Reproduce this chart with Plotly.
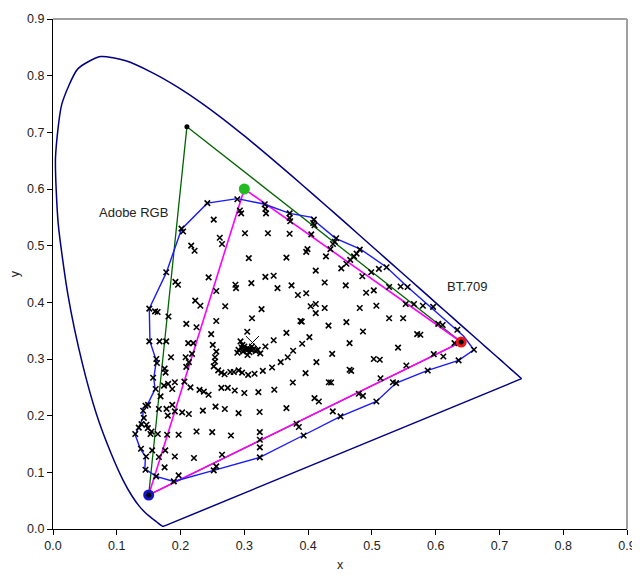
import plotly.graph_objects as go

# CIE 1931 2-degree spectral locus (x, y), 380-700 nm
locus_x = [0.1741, 0.1740, 0.1738, 0.1736, 0.1733, 0.1730, 0.1726, 0.1721, 0.1714, 0.1703,
           0.1689, 0.1669, 0.1644, 0.1611, 0.1566, 0.1510, 0.1440, 0.1355, 0.1241, 0.1096,
           0.0913, 0.0687, 0.0454, 0.0235, 0.0082, 0.0039, 0.0139, 0.0389, 0.0743, 0.1142,
           0.1547, 0.1929, 0.2296, 0.2658, 0.3016, 0.3373, 0.3731, 0.4087, 0.4441, 0.4788,
           0.5125, 0.5448, 0.5752, 0.6029, 0.6270, 0.6482, 0.6658, 0.6801, 0.6915, 0.7006,
           0.7079, 0.7140, 0.7190, 0.7230, 0.7260, 0.7283, 0.7300, 0.7311, 0.7320, 0.7327,
           0.7334, 0.7344, 0.7347]
locus_y = [0.0050, 0.0050, 0.0049, 0.0049, 0.0048, 0.0048, 0.0048, 0.0048, 0.0051, 0.0058,
           0.0069, 0.0086, 0.0109, 0.0138, 0.0177, 0.0227, 0.0297, 0.0399, 0.0578, 0.0868,
           0.1327, 0.2007, 0.2950, 0.4127, 0.5384, 0.6548, 0.7502, 0.8120, 0.8338, 0.8262,
           0.8059, 0.7816, 0.7543, 0.7243, 0.6923, 0.6589, 0.6245, 0.5896, 0.5547, 0.5202,
           0.4866, 0.4544, 0.4242, 0.3965, 0.3725, 0.3514, 0.3340, 0.3197, 0.3083, 0.2993,
           0.2920, 0.2859, 0.2809, 0.2770, 0.2740, 0.2717, 0.2700, 0.2689, 0.2680, 0.2673,
           0.2666, 0.2656, 0.2653]
# Line of purples (700 nm back to 380 nm)
purple_x = [0.7347, 0.1741]
purple_y = [0.2653, 0.0050]

# Adobe RGB primaries (R, G, B, R)
adobe_x = [0.64, 0.21, 0.15, 0.64]
adobe_y = [0.33, 0.71, 0.06, 0.33]

# BT.709 primaries (R, G, B, R)
bt709_x = [0.64, 0.30, 0.15, 0.64]
bt709_y = [0.33, 0.60, 0.06, 0.33]

# Measured gamut boundary (blue polygon)
gamut_x = [0.151, 0.1775, 0.2015, 0.242, 0.289, 0.332, 0.371, 0.406, 0.410, 0.443, 0.482,
           0.523, 0.556, 0.644, 0.660, 0.636, 0.5876, 0.538, 0.507, 0.4508, 0.392, 0.3243,
           0.252, 0.1894, 0.1618, 0.144, 0.145, 0.137, 0.129, 0.134, 0.141, 0.141, 0.148,
           0.160, 0.158, 0.162, 0.152, 0.151]
gamut_y = [0.389, 0.452, 0.529, 0.575, 0.583, 0.573, 0.557, 0.550, 0.544, 0.513, 0.494,
           0.462, 0.427, 0.340, 0.316, 0.2975, 0.280, 0.2575, 0.225, 0.1987, 0.165, 0.1263,
           0.1034, 0.084, 0.0928, 0.106, 0.128, 0.141, 0.166, 0.178, 0.196, 0.213, 0.219,
           0.247, 0.266, 0.297, 0.331, 0.389]

# Measured sample chromaticities (x markers)
sample_x = [
    0.242, 0.289, 0.293, 0.295, 0.332, 0.333, 0.334, 0.371, 0.371, 0.372, 0.252, 0.2015, 0.204,
    0.2615, 0.265, 0.301, 0.337, 0.371, 0.2167, 0.222, 0.307, 0.366, 0.1775, 0.244, 0.192, 0.196,
    0.256, 0.286, 0.287, 0.311, 0.333, 0.346, 0.352, 0.374, 0.384, 0.151, 0.160, 0.164, 0.181,
    0.223, 0.231, 0.270, 0.327, 0.312, 0.209, 0.225, 0.256, 0.388,
    0.409, 0.408, 0.410, 0.405, 0.399, 0.397, 0.428, 0.444, 0.442, 0.439, 0.435, 0.481, 0.476,
    0.472, 0.466, 0.460, 0.452, 0.412, 0.511, 0.523, 0.499, 0.485, 0.426, 0.459, 0.527, 0.545,
    0.556, 0.397, 0.503, 0.491, 0.404, 0.412, 0.412, 0.426, 0.481, 0.507, 0.553, 0.566, 0.580,
    0.596, 0.527, 0.549, 0.390, 0.432, 0.460, 0.604, 0.611,
    0.248, 0.3045, 0.366, 0.151, 0.167, 0.1775, 0.212, 0.220, 0.2505, 0.346,
    0.294, 0.297, 0.291, 0.289, 0.296, 0.300, 0.303, 0.306, 0.309, 0.312, 0.315, 0.318, 0.321,
    0.325, 0.333, 0.305, 0.300, 0.312, 0.298, 0.308,
    0.3765, 0.368, 0.357, 0.3435, 0.329, 0.316, 0.306, 0.2965, 0.291, 0.2835, 0.278, 0.269, 0.264,
    0.259, 0.252, 0.254, 0.254, 0.256, 0.396,
    0.162, 0.163, 0.185, 0.208, 0.213, 0.209, 0.218, 0.175, 0.1765, 0.157, 0.191, 0.1805, 0.174,
    0.187, 0.161, 0.206, 0.2155, 0.2297, 0.2365, 0.244, 0.264, 0.274, 0.285, 0.300, 0.322, 0.347,
    0.1686, 0.149, 0.145, 0.187, 0.178, 0.166, 0.1414, 0.191, 0.2025, 0.213, 0.235, 0.2548,
    0.2694, 0.291, 0.324, 0.366, 0.180, 0.1424, 0.1388, 0.1345, 0.1466, 0.1487, 0.1544, 0.129,
    0.1529, 0.1643, 0.179, 0.197, 0.225, 0.2496, 0.279, 0.3243, 0.3243, 0.3243, 0.3243, 0.138,
    0.1555, 0.176, 0.146, 0.166, 0.191, 0.221, 0.265, 0.175, 0.145, 0.1618, 0.197, 0.1894, 0.252,
    0.256, 0.3818, 0.3855, 0.393, 0.376,
    0.486, 0.571, 0.576, 0.402, 0.3907, 0.465, 0.541, 0.634, 0.6295, 0.4377, 0.503, 0.5124,
    0.597, 0.612, 0.660, 0.636, 0.413, 0.465, 0.4675, 0.554, 0.5876, 0.4325, 0.436, 0.5135,
    0.533, 0.538, 0.4795, 0.486, 0.507, 0.410, 0.4168, 0.4387, 0.4508,
]
sample_y = [
    0.575, 0.582, 0.562, 0.557, 0.573, 0.565, 0.557, 0.557, 0.549, 0.543, 0.546, 0.530, 0.525,
    0.514, 0.503, 0.522, 0.522, 0.521, 0.500, 0.491, 0.478, 0.479, 0.453, 0.444, 0.436, 0.431,
    0.420, 0.431, 0.425, 0.434, 0.445, 0.447, 0.425, 0.430, 0.413, 0.389, 0.384, 0.383, 0.375,
    0.403, 0.394, 0.393, 0.388, 0.372, 0.362, 0.356, 0.367, 0.367,
    0.546, 0.540, 0.536, 0.520, 0.494, 0.489, 0.481, 0.513, 0.507, 0.503, 0.494, 0.493, 0.486,
    0.481, 0.475, 0.468, 0.460, 0.456, 0.459, 0.462, 0.453, 0.446, 0.435, 0.430, 0.427, 0.428,
    0.427, 0.416, 0.421, 0.417, 0.393, 0.397, 0.381, 0.390, 0.390, 0.394, 0.397, 0.397, 0.394,
    0.392, 0.372, 0.372, 0.366, 0.359, 0.365, 0.362, 0.360,
    0.344, 0.348, 0.346, 0.331, 0.331, 0.331, 0.328, 0.328, 0.325, 0.333,
    0.331, 0.325, 0.316, 0.311, 0.320, 0.318, 0.316, 0.318, 0.317, 0.316, 0.318, 0.314, 0.316,
    0.310, 0.322, 0.307, 0.322, 0.322, 0.313, 0.312,
    0.3145, 0.303, 0.2945, 0.285, 0.279, 0.274, 0.272, 0.276, 0.280, 0.277, 0.277, 0.273, 0.276,
    0.280, 0.287, 0.2955, 0.303, 0.313, 0.275,
    0.300, 0.293, 0.303, 0.303, 0.2945, 0.286, 0.309, 0.283, 0.276, 0.267, 0.259, 0.256, 0.253,
    0.247, 0.247, 0.260, 0.250, 0.2455, 0.2425, 0.237, 0.249, 0.249, 0.2445, 0.240, 0.2415, 0.2457,
    0.234, 0.219, 0.2175, 0.219, 0.212, 0.2117, 0.2087, 0.2075, 0.2057, 0.203, 0.209, 0.216,
    0.2117, 0.2046, 0.2064, 0.2134, 0.200, 0.196, 0.185, 0.179, 0.184, 0.178, 0.172, 0.1676,
    0.1676, 0.1676, 0.1663, 0.1663, 0.172, 0.171, 0.165, 0.171, 0.1575, 0.144, 0.1263, 0.1417,
    0.1387, 0.1387, 0.128, 0.127, 0.128, 0.1252, 0.131, 0.1087, 0.1046, 0.0928, 0.0946, 0.084, 0.1034,
    0.1104, 0.1857, 0.180, 0.165, 0.2585,
    0.3485, 0.344, 0.3427, 0.3387, 0.327, 0.328, 0.320, 0.3516, 0.328, 0.309, 0.300, 0.2987,
    0.3087, 0.3045, 0.3163, 0.2975, 0.2945, 0.281, 0.279, 0.2885, 0.2798, 0.259, 0.2585, 0.266,
    0.259, 0.2575, 0.2387, 0.235, 0.225, 0.231, 0.225, 0.2075, 0.1987,
]

# White point
white_x = [0.3127]
white_y = [0.329]

# Labels
label_text = ["Adobe RGB", "BT.709"]
label_x = [0.126, 0.649]
label_y = [0.558, 0.428]

ticks = [0.0, 0.1, 0.2, 0.3, 0.4, 0.5, 0.6, 0.7, 0.8, 0.9]
tick_text = ["0.0", "0.1", "0.2", "0.3", "0.4", "0.5", "0.6", "0.7", "0.8", "0.9"]

FONT = "Liberation Sans, Arial, sans-serif"

fig = go.Figure()
fig.add_trace(go.Scatter(x=locus_x, y=locus_y, mode="lines",
                         line=dict(color="#000080", width=1.5, shape="spline", smoothing=0.6),
                         hoverinfo="skip"))
fig.add_trace(go.Scatter(x=purple_x, y=purple_y, mode="lines",
                         line=dict(color="#000080", width=1.5), hoverinfo="skip"))
fig.add_trace(go.Scatter(x=adobe_x, y=adobe_y, mode="lines",
                         line=dict(color="#006400", width=1.3), hoverinfo="skip"))
fig.add_trace(go.Scatter(x=bt709_x, y=bt709_y, mode="lines",
                         line=dict(color="#ff00ff", width=1.6), hoverinfo="skip"))
fig.add_trace(go.Scatter(x=gamut_x, y=gamut_y, mode="lines",
                         line=dict(color="#1a1aff", width=1.4), hoverinfo="skip"))
fig.add_trace(go.Scatter(x=sample_x, y=sample_y, mode="markers",
                         marker=dict(symbol="x-thin", size=5.5, color="black",
                                     line=dict(color="black", width=1.6))))
fig.add_trace(go.Scatter(x=white_x, y=white_y, mode="markers",
                         marker=dict(symbol="x-thin", size=13, color="black",
                                     line=dict(color="black", width=1))))
# BT.709 primaries as coloured dots
fig.add_trace(go.Scatter(x=bt709_x[:3], y=bt709_y[:3], mode="markers",
                         marker=dict(size=11, color=["#e81818", "#22bb22", "#1414c8"],
                                     line=dict(width=0))))
# Adobe RGB primaries as small black dots
fig.add_trace(go.Scatter(x=adobe_x[:3], y=adobe_y[:3], mode="markers",
                         marker=dict(size=5, color="black", line=dict(width=0))))

for t, lx, ly in zip(label_text, label_x, label_y):
    fig.add_annotation(x=lx, y=ly, text=t, showarrow=False,
                       font=dict(family=FONT, size=13, color="#222222"))

axis_common = dict(range=[0, 0.9], tickvals=ticks, ticktext=tick_text,
                   ticks="outside", ticklen=5, tickwidth=1, tickcolor="black",
                   showline=True, linecolor="black", linewidth=1.2,
                   showgrid=False, zeroline=False, automargin=False,
                   tickfont=dict(family=FONT, size=12.5, color="#222222"))

# The page adds an 8 px body margin, so the figure is sized to fit inside it.
fig.update_layout(
    width=632, height=571,
    margin=dict(l=45, r=13, t=11, b=50),
    paper_bgcolor="white", plot_bgcolor="white",
    showlegend=False,
    font=dict(family=FONT, size=12.5, color="#222222"),
    xaxis=dict(**axis_common, title=dict(text="x", standoff=8,
                                         font=dict(family=FONT, size=12.5))),
    yaxis=dict(**axis_common, title=dict(text="y", standoff=12,
                                         font=dict(family=FONT, size=12.5))),
    shapes=[
        dict(type="line", xref="paper", yref="paper", x0=0, y0=1, x1=1, y1=1,
             line=dict(color="#a0a0a0", width=2)),
        dict(type="line", xref="paper", yref="paper", x0=1, y0=0, x1=1, y1=1,
             line=dict(color="#a0a0a0", width=2)),
    ],
)

fig.write_html("out.html")
